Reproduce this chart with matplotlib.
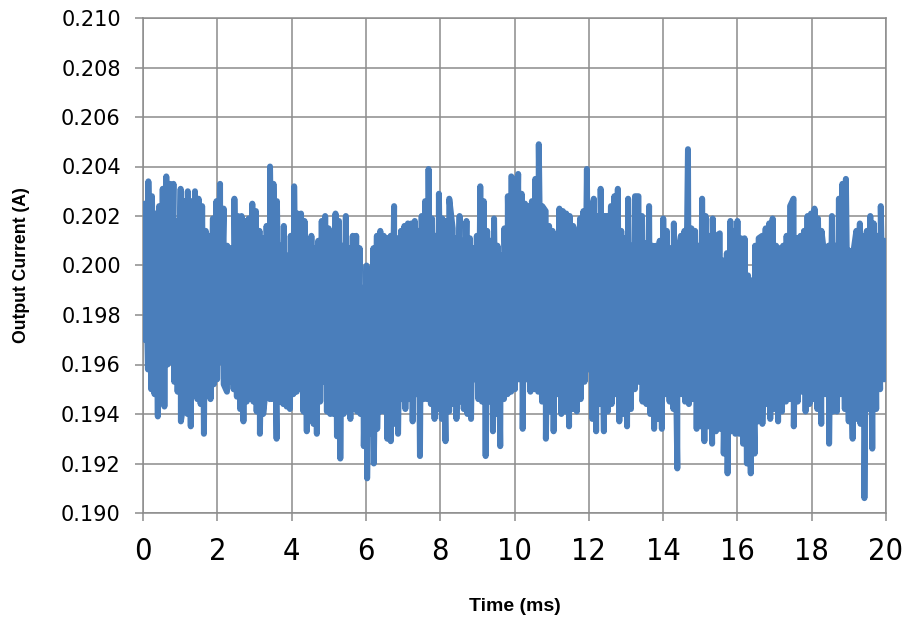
import numpy as np
import matplotlib; matplotlib.use("Agg"); import matplotlib.pyplot as plt

# upper peaks of the trace, read window by window (~0.1 ms apart)
hi_w = [
    [0.2025, 0.2034, 0.2028, 0.2021, 0.2024, 0.2031, 0.2036, 0.2033, 0.2033, 0.2018, 0.2031, 0.2026,
     0.2030, 0.2026, 0.2030, 0.2027, 0.2024, 0.2014, 0.2012, 0.2019, 0.2026, 0.2033, 0.2023, 0.2008,
     0.2007, 0.2027, 0.2020, 0.2020, 0.2018, 0.2019, 0.2025, 0.2022, 0.2014, 0.2011],
    [0.2016, 0.2040, 0.2033, 0.2026, 0.2008, 0.2016, 0.2004, 0.2012, 0.2032, 0.2021, 0.2021, 0.2018,
     0.2007, 0.2012, 0.2007, 0.2010, 0.2018, 0.2020, 0.2015, 0.2008, 0.2021, 0.2018, 0.2008, 0.2020,
     0.2007, 0.2012, 0.2012, 0.2007, 0.1991, 0.2000, 0.1998, 0.2007, 0.2012, 0.2014, 0.2012, 0.2011],
    [0.2012, 0.2024, 0.2011, 0.2014, 0.2016, 0.2017, 0.2017, 0.2018, 0.2014, 0.2020, 0.2026, 0.2039,
     0.2019, 0.2012, 0.2029, 0.2019, 0.2018, 0.2027, 0.2015, 0.2011, 0.2020, 0.2010, 0.2018, 0.2011,
     0.2007, 0.2012, 0.2032, 0.2026, 0.2014, 0.2010, 0.2019, 0.2008, 0.2004, 0.2015, 0.2028, 0.2036],
    [0.2034, 0.2037, 0.2029, 0.2025, 0.2024, 0.2026, 0.2035, 0.2049, 0.2024, 0.2022, 0.2016, 0.2014,
     0.2012, 0.2023, 0.2022, 0.2021, 0.2020, 0.2016, 0.2011, 0.2019, 0.2022, 0.2039, 0.2025, 0.2027,
     0.2020, 0.2031, 0.2020, 0.2020, 0.2024, 0.2028, 0.2031, 0.2014, 0.2011, 0.2027, 0.2008, 0.2028],
    [0.2028, 0.2020, 0.2009, 0.2024, 0.2008, 0.2008, 0.2010, 0.2019, 0.2014, 0.2007, 0.2017, 0.2003,
     0.2012, 0.2014, 0.2047, 0.2015, 0.2014, 0.2008, 0.2027, 0.2020, 0.2012, 0.2019, 0.2012, 0.2013,
     0.2002, 0.2005, 0.2018, 0.2014, 0.2018, 0.2011, 0.2011, 0.1996, 0.1994, 0.2008, 0.2011],
    [0.2012, 0.2015, 0.2017, 0.2019, 0.2008, 0.2007, 0.2008, 0.2012, 0.2024, 0.2027, 0.2011, 0.2012,
     0.2014, 0.2020, 0.2021, 0.2023, 0.2019, 0.2014, 0.2002, 0.2008, 0.2020, 0.2008, 0.2027, 0.2033,
     0.2035, 0.2006, 0.2004, 0.2014, 0.2017, 0.2012, 0.2014, 0.2020, 0.2017, 0.2012, 0.2024, 0.2010],
]
# lower troughs, same windows
lo_w = [
    [0.1970, 0.1958, 0.1950, 0.1948, 0.1939, 0.1949, 0.1943, 0.1960, 0.1961, 0.1953, 0.1949, 0.1937,
     0.1946, 0.1940, 0.1935, 0.1950, 0.1946, 0.1944, 0.1932, 0.1949, 0.1946, 0.1952, 0.1954, 0.1961,
     0.1952, 0.1949, 0.1953, 0.1950, 0.1947, 0.1942, 0.1937, 0.1945, 0.1949, 0.1945, 0.1941, 0.1932, 0.1940],
    [0.1953, 0.1946, 0.1946, 0.1930, 0.1945, 0.1944, 0.1943, 0.1942, 0.1948, 0.1949, 0.1956, 0.1941,
     0.1933, 0.1941, 0.1936, 0.1932, 0.1945, 0.1953, 0.1941, 0.1940, 0.1940, 0.1931, 0.1922, 0.1940,
     0.1942, 0.1938, 0.1942, 0.1941, 0.1940, 0.1927, 0.1914, 0.1932, 0.1920, 0.1934, 0.1941, 0.1941, 0.1930],
    [0.1929, 0.1936, 0.1932, 0.1946, 0.1942, 0.1946, 0.1937, 0.1948, 0.1923, 0.1946, 0.1946, 0.1944,
     0.1938, 0.1942, 0.1938, 0.1929, 0.1941, 0.1944, 0.1938, 0.1945, 0.1942, 0.1940, 0.1938, 0.1954,
     0.1946, 0.1945, 0.1923, 0.1945, 0.1933, 0.1940, 0.1927, 0.1946, 0.1948, 0.1949],
    [0.1950, 0.1954, 0.1934, 0.1954, 0.1949, 0.1950, 0.1949, 0.1945, 0.1930, 0.1941, 0.1933, 0.1948,
     0.1940, 0.1941, 0.1935, 0.1942, 0.1941, 0.1946, 0.1953, 0.1958, 0.1938, 0.1933, 0.1944, 0.1933,
     0.1941, 0.1944, 0.1948, 0.1937, 0.1940, 0.1935, 0.1942, 0.1950],
    [0.1953, 0.1945, 0.1944, 0.1940, 0.1934, 0.1938, 0.1934, 0.1948, 0.1945, 0.1942, 0.1918, 0.1948,
     0.1945, 0.1944, 0.1946, 0.1934, 0.1935, 0.1929, 0.1935, 0.1928, 0.1933, 0.1934, 0.1924, 0.1916,
     0.1933, 0.1932, 0.1932, 0.1928, 0.1920, 0.1916, 0.1924, 0.1937],
    [0.1936, 0.1944, 0.1938, 0.1942, 0.1937, 0.1941, 0.1945, 0.1946, 0.1935, 0.1945, 0.1949, 0.1941,
     0.1944, 0.1946, 0.1942, 0.1936, 0.1948, 0.1928, 0.1941, 0.1941, 0.1948, 0.1942, 0.1937, 0.1930,
     0.1938, 0.1936, 0.1906, 0.1942, 0.1926, 0.1942, 0.1950, 0.1954],
]
win_edges = [0.0, 3.28, 6.62, 9.96, 13.29, 16.62, 20.0]   # ms

xticks = [0, 2, 4, 6, 8, 10, 12, 14, 16, 18, 20]
yticks = [0.190, 0.192, 0.194, 0.196, 0.198, 0.200, 0.202, 0.204, 0.206, 0.208, 0.210]

def spread(wins):
    ts, vs = [], []
    for k, w in enumerate(wins):
        a, b = win_edges[k], win_edges[k+1]
        n = len(w)
        ts.append(np.linspace(a, b, n, endpoint=False) + (b-a)/(2*n)); vs.append(w)
    return np.concatenate(ts), np.concatenate(vs)

th, vh = spread(hi_w); tl, vl = spread(lo_w)
t = np.concatenate([th, tl]); v = np.concatenate([vh, vl])
o = np.argsort(t, kind='stable'); t = t[o]; v = v[o]

fig = plt.figure(figsize=(9.05, 6.23), dpi=100)
ax = fig.add_axes([143/905, 1-513/623, (886-143)/905, (513-18)/623])
gc = '#8c8c8c'
ax.plot(t, v, color='#4a7ebb', lw=4.3, solid_capstyle='round', solid_joinstyle='round', zorder=3)
ax.set_xlim(0, 20); ax.set_ylim(0.190, 0.210)
ax.set_xticks(xticks); ax.set_yticks(yticks)
ax.set_yticklabels([f"{y:.3f}" for y in yticks], fontsize=15, family='DejaVu Sans')
ax.set_xticklabels([str(x) for x in xticks], fontsize=22, family='DejaVu Sans', fontstretch='condensed')
ax.grid(True, color=gc, lw=1.1, zorder=0)
ax.set_axisbelow(True)
for s in ax.spines.values(): s.set_color(gc); s.set_linewidth(1.1)
ax.tick_params(axis='both', color=gc, width=1.1, length=6, direction='out')
ax.tick_params(axis='y', pad=10)
ax.tick_params(axis='x', pad=11)
ax.set_xlabel('Time (ms)', fontsize=14, fontweight='bold', family='Liberation Sans', labelpad=23)
ax.set_ylabel('Output Current (A)', fontsize=12.7, fontweight='bold', family='Liberation Sans', labelpad=22)
fig.savefig('out.png', dpi=100)
